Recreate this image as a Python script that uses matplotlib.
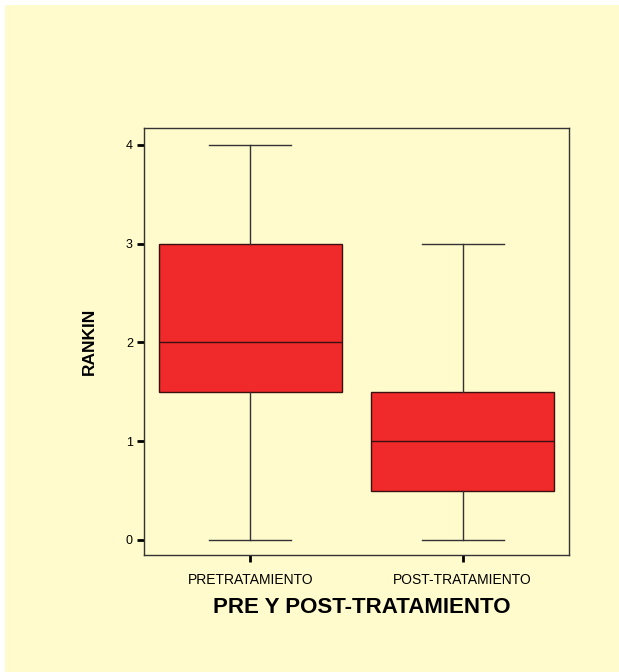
import matplotlib.pyplot as plt
from matplotlib.patches import Rectangle

# box summary values
groups = ["PRETRATAMIENTO", "POST-TRATAMIENTO"]
medians = [2.0, 1.0]
q1 = [1.5, 0.5]
q3 = [3.0, 1.5]
whisk_lo = [0.0, 0.0]
whisk_hi = [4.0, 3.0]
yticks = [0, 1, 2, 3, 4]

bg = "#FFFBCC"
box_red = "#F02A2A"

plt.rcParams['font.family'] = ['Liberation Sans', 'DejaVu Sans']

fig = plt.figure(figsize=(6.19, 6.72), dpi=100)
fig.patch.set_facecolor("white")
fig.patches.append(Rectangle((5 / 619, 0), 1, 1 - 5 / 672, transform=fig.transFigure,
                             facecolor=bg, edgecolor="none", zorder=-10))

ax = fig.add_axes([144 / 619, 1 - 555 / 672, 425 / 619, 427 / 672])
ax.set_zorder(1)
ax.set_facecolor(bg)

stats = []
for i, g in enumerate(groups):
    stats.append({"label": g, "med": medians[i], "q1": q1[i], "q3": q3[i],
                  "whislo": whisk_lo[i], "whishi": whisk_hi[i], "fliers": []})

ax.bxp(stats, positions=[1, 2], widths=0.86, capwidths=0.385, patch_artist=True,
       boxprops=dict(facecolor=box_red, edgecolor="#3a1010", linewidth=1.0),
       medianprops=dict(color="#3a1010", linewidth=1.0),
       whiskerprops=dict(color="#333333", linewidth=1.0),
       capprops=dict(color="#333333", linewidth=1.0),
       showfliers=False)

ax.set_xlim(0.5, 2.5)
ax.set_ylim(-0.152, 4.17)
ax.set_yticks(yticks)
ax.set_yticklabels([str(t) for t in yticks], fontsize=9)
ax.set_xticks([1, 2])
ax.set_xticklabels(groups, fontsize=10)
ax.tick_params(axis="both", direction="out", length=5, width=2, color="black")
ax.tick_params(axis="x", pad=8)
ax.tick_params(axis="y", pad=3)

for s in ax.spines.values():
    s.set_color("#333333")
    s.set_linewidth(1.0)

ax.set_ylabel("RANKIN", fontsize=12.5, fontweight="bold", labelpad=21)
ax.set_xlabel("PRE Y POST-TRATAMIENTO", fontsize=16, fontweight="bold", labelpad=7)
ax.xaxis.label.set_x(0.513)

fig.savefig("out.png", dpi=100, facecolor=fig.get_facecolor())
